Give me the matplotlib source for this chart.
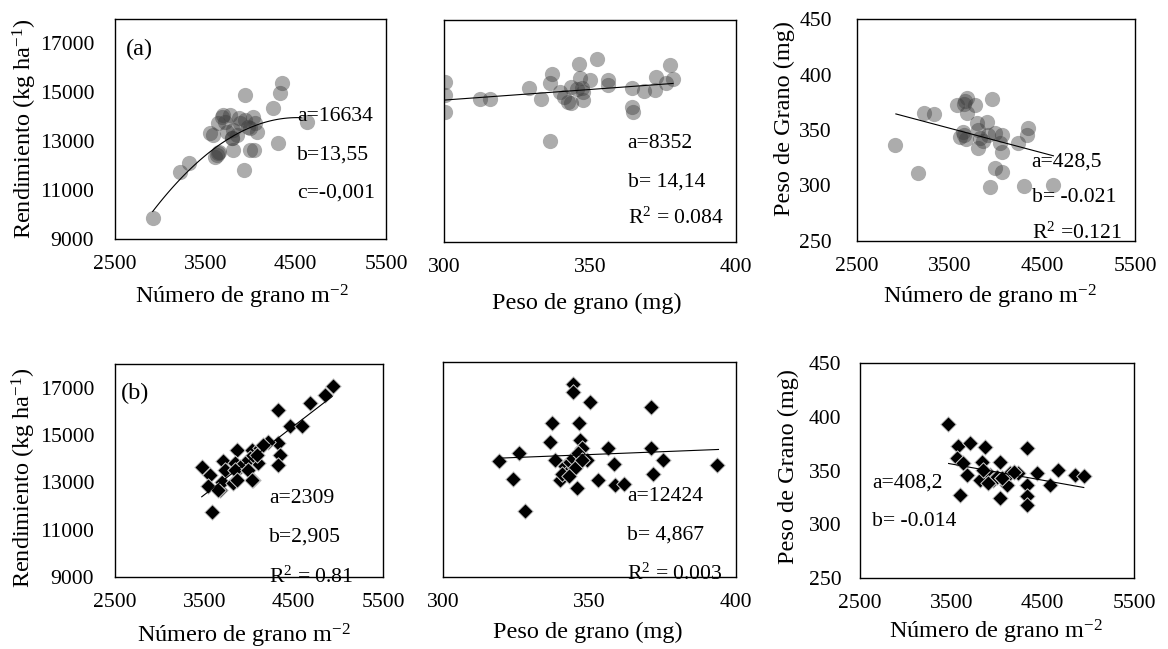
import matplotlib.pyplot as plt
import numpy as np

plt.rcParams['font.family'] = 'Liberation Serif'
plt.rcParams['mathtext.fontset'] = 'custom'
plt.rcParams['mathtext.rm'] = 'Liberation Serif'
plt.rcParams['mathtext.default'] = 'regular'

# (a) grano m-2 vs rendimiento
p1_x = [2917, 3220, 3323, 3931, 3607, 3655, 3630, 3645, 3810, 3994, 4039, 4308, 3939,
        4345, 4327, 4246, 4622, 3552, 3585, 3681, 3773, 3643, 3718, 3810, 3847, 3800,
        3939, 4031, 4050, 4069, 3976, 3884, 3736, 3792, 3700, 3870, 3990]
p1_y = [9847, 11754, 12097, 11823, 12367, 12571, 12450, 12500, 12640, 12640, 12640, 12939, 14890,
        15370, 14960, 14350, 13806, 13320, 13250, 14010, 14070, 13740, 13806, 13460, 13250, 13150,
        13870, 14010, 13740, 13390, 13600, 13740, 13390, 13120, 14060, 13950, 13550]

# (a) peso de grano vs rendimiento
p2_x = [300.3, 300.3, 300.3, 312.3, 315.8, 329.2, 333.4, 336.9, 336.3, 336.3, 339.7, 342.6,
        343.4, 343.7, 346.3, 346.6, 347.2, 347.7, 347.7, 350.0, 352.3, 356.3, 356.3, 364.3,
        364.3, 364.8, 368.5, 372.3, 372.8, 377.4, 376.2, 378.5, 345.5, 341.0]
p2_y = [15500, 14960, 14280, 14785, 14785, 15230, 14785, 15800, 15440, 13110, 15090, 14690,
        14620, 15300, 16220, 15640, 15230, 15090, 14760, 15570, 16410, 15570, 15360, 15260,
        14490, 14280, 15130, 15160, 15680, 16180, 15460, 15600, 15200, 14900]

# (a) grano m-2 vs peso de grano
p3_x = [2910, 3155, 3226, 3331, 3576, 3655, 3690, 3670, 3773, 3953, 3685, 3615, 3651, 3680,
        3791, 3900, 3809, 3827, 3809, 3917, 3989, 4061, 4043, 4061, 3989, 4061, 3935, 4242,
        4350, 4332, 4306, 4620, 3640, 3860]
p3_y = [336.5, 311, 365, 364, 372.5, 373.4, 378.5, 376, 372.5, 377.7, 365, 344, 345.5, 342,
        356, 357.5, 350, 342.5, 333.5, 345.5, 347, 345.5, 338, 330.5, 315.5, 312.5, 299, 338,
        351.5, 345.5, 299.5, 300.5, 348, 340]

# (b) grano m-2 vs rendimiento
p4_x = [3470, 3563, 3541, 3675, 3694, 3711, 3582, 3824, 3869, 3843, 4030, 4048, 4104, 4328,
        4328, 4347, 4328, 4216, 4459, 4590, 4683, 4851, 4944, 3731, 3862, 4011, 3955, 3899,
        3843, 3992, 4123, 4160, 4086, 3656, 4030, 3862]
p4_y = [13660, 13310, 12860, 12680, 13020, 13910, 11760, 12960, 14370, 13800, 14370, 13100, 13800, 16080,
        14650, 14150, 13730, 14720, 15380, 15380, 16360, 16690, 17060, 13520, 13520, 14010, 13800, 13660,
        13520, 13520, 14440, 14580, 14150, 12680, 13100, 13100]

# (b) peso de grano vs rendimiento
p5_x = [319.2, 326.0, 323.9, 328.0, 337.1, 336.5, 338.2, 339.9, 344.3, 344.3, 350.0, 346.5,
        346.8, 347.3, 349.0, 345.7, 353.0, 356.4, 358.2, 358.7, 361.8, 370.9, 370.9, 375.0,
        371.8, 393.4, 341.5, 342.5, 343.5, 344.5, 345.0, 346.0, 340.5, 343.0, 347.5]
p5_y = [13870, 14180, 13090, 11770, 15460, 14660, 13900, 13060, 17100, 16750, 16330, 15430,
        14730, 14390, 13900, 12710, 13060, 14410, 13730, 12850, 12890, 16130, 14390, 13920,
        13310, 13690, 13650, 13400, 13800, 14000, 13550, 14200, 13300, 13250, 13900]

# (b) grano m-2 vs peso de grano
p6_x = [3467, 3577, 3705, 3869, 4332, 3559, 3632, 3833, 4034, 3669, 3815, 3924, 3960, 3995,
        4053, 4108, 4144, 4235, 4327, 4436, 4327, 4327, 4575, 4673, 4855, 4954, 3590, 4034,
        3851, 3900, 4060, 4190]
p6_y = [393.3, 372.8, 375.3, 371.6, 370.6, 361.3, 356.7, 358.2, 358.2, 345.8, 341.2, 345.8,
        341.2, 344, 342.7, 336.5, 347.4, 347.4, 336.5, 347.4, 326.3, 317.9, 336.5, 350.5,
        345.8, 344.9, 327.2, 324.1, 350.5, 338, 343, 349]

# trend lines: polynomial coefficients (highest power first) and x range
fit1 = ([-0.0015, 13.55, -16634], [2917, 4560])
fit2 = ([8.6, 12177], [300, 378.5])
fit3 = ([-0.0222, 429.3], [2920, 4620])
fit4 = ([2.905, 2309], [3470, 4930])
fit5 = ([4.867, 12424], [319, 394])
fit6 = ([-0.0151, 409.0], [3470, 4950])

notes1 = ['a=16634', 'b=13,55', 'c=-0,001']
notes2 = ['a=8352', 'b= 14,14', 'R$^2$ = 0.084']
notes3 = ['a=428,5', 'b= -0.021', 'R$^2$ =0.121']
notes4 = ['a=2309', 'b=2,905', 'R$^2$ = 0.81']
notes5 = ['a=12424', 'b= 4,867', 'R$^2$ = 0.003']
notes6 = ['a=408,2', 'b= -0.014']

num_ticks = [2500, 3500, 4500, 5500]
peso_ticks = [300, 350, 400]
rend_ticks = [9000, 11000, 13000, 15000, 17000]
pg_ticks = [250, 300, 350, 400, 450]

xl_num = 'Número de grano m$^{-2}$'
xl_peso = 'Peso de grano (mg)'
yl_rend = 'Rendimiento (kg ha$^{-1}$)'
yl_pg = 'Peso de Grano (mg)'

fig = plt.figure(figsize=(11.68, 6.49), dpi=100)


def panel(rect, x, y, top, fit, xlim, xticks, ylim, yticks, xlabel, xl_pos,
          ylabel, yl_pos, notes, note_pos, ypad=15):
    ax = fig.add_axes(rect)
    if top:
        ax.scatter(x, y, s=120, color='#3a3a3a', alpha=0.42, linewidths=0, zorder=2)
    else:
        ax.scatter(x, y, s=62, marker='D', color='black', edgecolors='#cfcfcf',
                   linewidths=0.7, zorder=2)
    xs = np.linspace(fit[1][0], fit[1][1], 100)
    ax.plot(xs, np.polyval(fit[0], xs), color='black', lw=0.8, zorder=3)

    ax.set_xlim(xlim)
    ax.set_ylim(ylim)
    ax.set_xticks(xticks)
    ax.set_yticks(yticks)
    ax.tick_params(length=0, labelsize=15.6)
    ax.tick_params(axis='x', pad=11.5)
    ax.tick_params(axis='y', pad=ypad)
    if not ylabel:
        ax.set_yticklabels([])
    for s in ax.spines.values():
        s.set_linewidth(1.0)

    ax.set_xlabel(xlabel, fontsize=17.5, va='center')
    ax.xaxis.set_label_coords(*xl_pos)
    if ylabel:
        ax.set_ylabel(ylabel, fontsize=17.5, va='center')
        ax.yaxis.set_label_coords(*yl_pos)

    nx, ny = note_pos
    for t, yy in zip(notes, ny):
        ax.text(nx, yy, t, transform=ax.transAxes, fontsize=15.6, ha='left', va='center')
    return ax


ax1 = panel([0.0985, 0.6317, 0.232, 0.339], p1_x, p1_y, True, fit1, (2500, 5500), num_ticks,
            (9000, 18000), rend_ticks, xl_num, (0.47, -0.264), yl_rend, (-0.332, 0.5),
            notes1, (0.672, [0.555, 0.382, 0.209]))
ax1.text(0.04, 0.86, '(a)', transform=ax1.transAxes, fontsize=17.5, ha='left', va='center')

panel([0.380, 0.627, 0.25, 0.342], p2_x, p2_y, True, fit2, (300, 400), peso_ticks,
      (9000, 18000), rend_ticks, xl_peso, (0.49, -0.275), None, None,
      notes2, (0.629, [0.446, 0.27, 0.108]))

panel([0.7337, 0.6287, 0.238, 0.342], p3_x, p3_y, True, fit3, (2500, 5500), num_ticks,
      (250, 450), pg_ticks, xl_num, (0.48, -0.25), yl_pg, (-0.262, 0.554),
      notes3, (0.628, [0.356, 0.194, 0.036]), ypad=18)

ax4 = panel([0.0985, 0.111, 0.2295, 0.328], p4_x, p4_y, False, fit4, (2500, 5500), num_ticks,
            (9000, 18000), rend_ticks, xl_num, (0.48, -0.275), yl_rend, (-0.34, 0.465),
            notes4, (0.576, [0.369, 0.189, 0.0]))
ax4.text(0.02, 0.86, '(b)', transform=ax4.transAxes, fontsize=17.5, ha='left', va='center')

panel([0.3793, 0.111, 0.2509, 0.331], p5_x, p5_y, False, fit5, (300, 400), peso_ticks,
      (9000, 18000), rend_ticks, xl_peso, (0.495, -0.256), None, None,
      notes5, (0.629, [0.373, 0.195, 0.014]))

panel([0.7363, 0.1094, 0.2346, 0.331], p6_x, p6_y, False, fit6, (2500, 5500), num_ticks,
      (250, 450), pg_ticks, xl_num, (0.496, -0.25), yl_pg, (-0.262, 0.52),
      notes6, (0.043, [0.44, 0.262]), ypad=13.5)

fig.savefig('out.png', dpi=100)
